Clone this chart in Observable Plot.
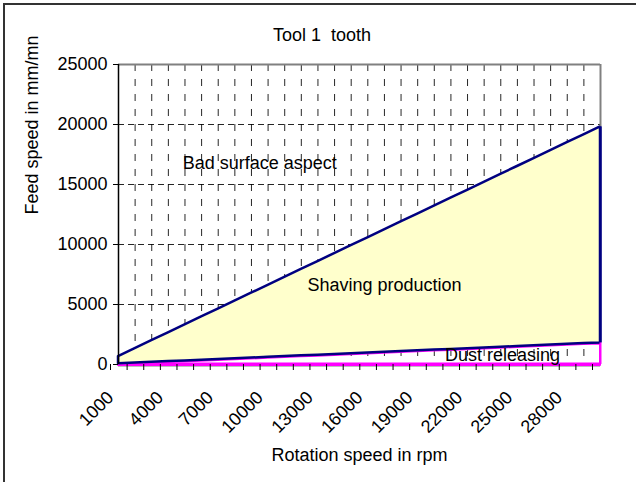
<!DOCTYPE html>
<html>
<head>
<meta charset="utf-8">
<script src="https://cdn.jsdelivr.net/npm/d3@7"></script>
<script src="https://cdn.jsdelivr.net/npm/@observablehq/plot@0.6"></script>
<style>
  html, body { margin: 0; padding: 0; background: #fff; overflow: hidden; }
  #wrap { position: relative; width: 636px; height: 482px; overflow: hidden; font-family: "Liberation Sans", Arial, sans-serif; }
  #frame { position: absolute; left: 3px; top: 3px; width: 700px; height: 600px; border: 2px solid #333; box-sizing: border-box; pointer-events: none; }
  #title { position: absolute; left: 0; width: 644px; top: 24px; text-align: center; font-size: 18px; white-space: pre; color: #000; line-height: 22px; }
</style>
</head>
<body>
<div id="wrap">
  <div id="title">Tool 1  tooth</div>
  <div id="chart"></div>
  <div id="frame"></div>
</div>
<script>
// Rotation speed categories (rpm)
const rpm = [1000, 2000, 3000, 4000, 5000, 6000, 7000, 8000, 9000, 10000,
             11000, 12000, 13000, 14000, 15000, 16000, 17000, 18000, 19000, 20000,
             21000, 22000, 23000, 24000, 25000, 26000, 27000, 28000, 29000, 30000];
// Lower limit: dust releasing below (mm/mn)
const dustLimit = [60, 120, 180, 240, 300, 360, 420, 480, 540, 600,
                   660, 720, 780, 840, 900, 960, 1020, 1080, 1140, 1200,
                   1260, 1320, 1380, 1440, 1500, 1560, 1620, 1680, 1740, 1800];
// Upper limit: bad surface aspect above (mm/mn)
const surfaceLimit = [660, 1320, 1980, 2640, 3300, 3960, 4620, 5280, 5940, 6600,
                      7260, 7920, 8580, 9240, 9900, 10560, 11220, 11880, 12540, 13200,
                      13860, 14520, 15180, 15840, 16500, 17160, 17820, 18480, 19140, 19800];
// Labelled ticks on the x axis
const xTickLabels = [1000, 4000, 7000, 10000, 13000, 16000, 19000, 22000, 25000, 28000];
const yTicks = [0, 5000, 10000, 15000, 20000, 25000];
// Zone annotations
const zoneNames = ["Bad surface aspect", "Shaving production", "Dust releasing"];
const zoneX = [9500, 17000, 24100];
const zoneY = [16800, 6600, 750];

const rows = rpm.map((r, i) => ({rpm: r, low: dustLimit[i], high: surfaceLimit[i]}));
const zones = zoneNames.map((n, i) => ({name: n, x: zoneX[i], y: zoneY[i]}));
const labelSet = new Set(xTickLabels);

const chart = Plot.plot({
  width: 636,
  height: 482,
  marginLeft: 118,
  marginRight: 36,
  marginTop: 64,
  marginBottom: 118,
  style: {fontFamily: "'Liberation Sans', Arial, sans-serif", fontSize: "18px", color: "#000", background: "transparent"},
  x: {domain: [1000, 30000]},
  y: {domain: [0, 25000]},
  marks: [
    // gridlines
    Plot.ruleY(yTicks.slice(1, -1), {stroke: "#000", strokeWidth: 1, strokeDasharray: "6,4", strokeOpacity: 0.85}),
    Plot.ruleX(rpm.slice(1, -1), {stroke: "#000", strokeWidth: 1, strokeDasharray: "7,8", strokeOpacity: 0.85}),
    // x axis line (under the zone outlines)
    Plot.ruleY([0], {stroke: "#000", strokeWidth: 1.5, dy: 1}),
    // dust releasing zone (outline only)
    Plot.areaY(rows, {x: "rpm", y1: 0, y2: "low", fill: "none", stroke: "#FF00FF", strokeWidth: 2, dy: 1}),
    Plot.ruleY([0], {stroke: "#FF00FF", strokeWidth: 2, dy: -1}),
    // shaving production zone
    Plot.areaY(rows, {x: "rpm", y1: "low", y2: "high", fill: "#FFFFCC", stroke: "#000080", strokeWidth: 2.5}),
    // plot frame (top & right in gray)
    Plot.ruleY([25000], {stroke: "#808080", strokeWidth: 2}),
    Plot.ruleX([30000], {x: d => d, y1: 19800, y2: 25000, stroke: "#808080", strokeWidth: 2}),
    Plot.ruleX([30000], {x: d => d, y1: 1800, y2: 19800, stroke: "#000080", strokeWidth: 2.5}),
    Plot.ruleX([30000], {x: d => d, y1: 0, y2: 1800, stroke: "#FF00FF", strokeWidth: 2}),
    // axes
    Plot.axisY({ticks: yTicks, tickSize: 5, tickPadding: 6, label: null, tickFormat: d => String(d)}),
    Plot.axisX({ticks: rpm, tickSize: 6, tickPadding: 24, dx: -8, tickRotate: -45, label: null,
                tickFormat: d => labelSet.has(d) ? String(d) : ""}),
    Plot.ruleX([1000], {stroke: "#000", strokeWidth: 1.5}),
    // axis titles
    Plot.text(["Feed speed in mm/mn"], {frameAnchor: "left", dx: -86, rotate: -90, fill: "#000"}),
    Plot.text(["Rotation speed in rpm"], {frameAnchor: "bottom", dy: 96, fill: "#000"}),
    // zone labels
    Plot.text(zones, {x: "x", y: "y", text: "name", fill: "#000"})
  ]
});
document.getElementById("chart").appendChild(chart);
</script>
</body>
</html>
